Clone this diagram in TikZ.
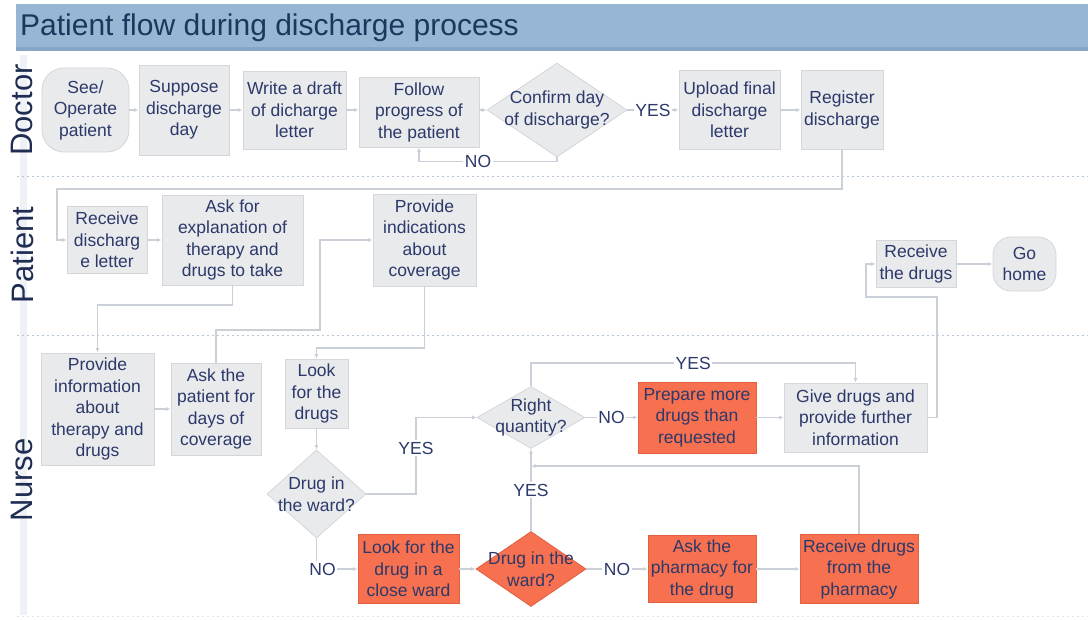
\documentclass[tikz,border=0pt]{standalone}
\usepackage{fontspec}
\setmainfont{Liberation Sans}
\usetikzlibrary{shapes.geometric,arrows.meta,calc}
\definecolor{barblue}{HTML}{97B6D4}
\definecolor{barline}{HTML}{86A6C6}
\definecolor{titletext}{HTML}{1C375C}
\definecolor{lanetext}{HTML}{1F2D52}
\definecolor{nodetext}{HTML}{2C396A}
\definecolor{boxfill}{HTML}{E9EAEC}
\definecolor{boxedge}{HTML}{D4D6DB}
\definecolor{hotfill}{HTML}{F7704F}
\definecolor{hotedge}{HTML}{E0603F}
\definecolor{wire}{HTML}{CBD0D8}
\definecolor{sepline}{HTML}{B5C6D8}
\definecolor{laneband}{HTML}{EEF2F6}

\begin{document}
\begin{tikzpicture}[x=1pt,y=-1pt,
  every node/.style={text=nodetext, font=\fontsize{17.5pt}{21.5pt}\selectfont, align=center},
  box/.style={rectangle, draw=boxedge, fill=boxfill, line width=0.8pt, inner sep=0pt},
  hotbox/.style={box, draw=hotedge, fill=hotfill},
  endbox/.style={box, rounded corners=#1},
  dec/.style={diamond, draw=boxedge, fill=boxfill, line width=0.8pt, inner sep=0pt},
  hotdec/.style={dec, draw=hotedge, fill=hotfill},
  dectext/.style={inner sep=0pt, text=nodetext, align=center},
  wireto/.style={draw=wire, line width=1.2pt, -{Latex[length=4.5pt,width=4pt]}},
  lbl/.style={fill=white, inner sep=1.5pt},
  lane/.style={rotate=90, text=lanetext, inner sep=0pt, font=\fontsize{31pt}{31pt}\selectfont},
  sep/.style={draw=sepline, line width=0.9pt, dash pattern=on 1.5pt off 3.5pt}
]
\useasboundingbox (0,0) rectangle (1088,620);
\fill[white] (0,0) rectangle (1088,620);

% lane band, title bar and lane separators
\fill[laneband] (20,55) rectangle (27,615);
\fill[barblue] (16,4) rectangle (1088,48);
\fill[barline] (16,47) rectangle (1088,51);
\draw[sep] (17,176) -- (1088,176);
\draw[sep] (17,335) -- (1088,335);
\draw[sep, draw=sepline!45] (17,616) -- (1088,616);

\node[anchor=base west, text=titletext, inner sep=0pt,
      font=\fontsize{30pt}{30pt}\selectfont] (title) at (20,36)
      {Patient flow during discharge process};

\node[lane] (ldoc) at (22,110) {Doctor};
\node[lane] (lpat) at (22,255) {Patient};
\node[lane] (lnur) at (22,480) {Nurse};

% Doctor lane
\node[endbox=22pt, minimum width=87pt, minimum height=84pt] (see) at (85.5,110) {See/\\Operate\\patient};
\node[box, minimum width=90pt, minimum height=90pt] (sup) at (184,110) {Suppose\\discharge\\day};
\node[box, minimum width=103pt, minimum height=78pt] (wri) at (294.5,110) {Write a draft\\of dicharge\\letter};
\node[box, minimum width=120pt, minimum height=70pt] (fol) at (419,112) {Follow\\progress of\\the patient};
\node[dec, minimum width=140pt, minimum height=94pt,
      label={[dectext]center:{Confirm day\\of discharge?}}] (conf) at (557,110) {};
\node[box, minimum width=101pt, minimum height=79pt] (upl) at (729.5,110) {Upload final\\discharge\\letter};
\node[box, minimum width=82pt, minimum height=79pt] (reg) at (842,110) {Register\\discharge};

% Patient lane
\node[box, minimum width=80pt, minimum height=67pt] (recv) at (107,240) {Receive\\discharg\\e letter};
\node[box, minimum width=141pt, minimum height=90pt] (ask) at (232.5,240) {Ask for\\explanation of\\therapy and\\drugs to take};
\node[box, minimum width=103pt, minimum height=92pt] (prov) at (424.5,240) {Provide\\indications\\about\\coverage};
\node[box, minimum width=80pt, minimum height=47pt] (rdrug) at (916,264) {Receive\\the drugs};
\node[endbox=18pt, minimum width=63pt, minimum height=54pt] (home) at (1024.5,264) {Go\\home};

% Nurse lane
\node[box, minimum width=113pt, minimum height=112pt] (pinfo) at (97.5,409) {Provide\\information\\about\\therapy and\\drugs};
\node[box, minimum width=90pt, minimum height=92pt] (askp) at (216,409) {Ask the\\patient for\\days of\\coverage};
\node[box, minimum width=63pt, minimum height=69pt] (look) at (316.5,393.5) {Look\\for the\\drugs};
\node[dec, minimum width=99pt, minimum height=88pt,
      label={[dectext]center:{Drug in\\the ward?}}] (dw1) at (316.5,494) {};
\node[dec, minimum width=108pt, minimum height=62pt,
      label={[dectext]center:{Right\\quantity?}}] (rq) at (531,417.5) {};
\node[hotbox, minimum width=118pt, minimum height=71pt] (prep) at (697,417.5) {Prepare more\\drugs than\\requested};
\node[box, minimum width=143pt, minimum height=69pt] (gd) at (855.5,417.5) {Give drugs and\\provide further\\information};
\node[hotbox, minimum width=101pt, minimum height=69pt] (close) at (408.5,569) {Look for the\\drug in a\\close ward};
\node[hotdec, minimum width=110pt, minimum height=75pt,
      label={[dectext]center:{Drug in the\\ward?}}] (dw2) at (531,569) {};
\node[hotbox, minimum width=108pt, minimum height=67pt] (askph) at (702,569) {Ask the\\pharmacy for\\the drug};
\node[hotbox, minimum width=118pt, minimum height=69pt] (rph) at (859,569) {Receive drugs\\from the\\pharmacy};

\coordinate (merge) at (dw2.north |- 0,466);

% Doctor lane flow
\draw[wireto] (see) -- (sup);
\draw[wireto] (sup) -- (wri);
\draw[wireto] (wri.east) -- (wri.east -| fol.west);
\draw[wireto] (fol.east |- conf.west) -- (conf.west);
\draw[wireto] (conf.east) -- node[lbl]{YES} (upl.west);
\draw[wireto] (conf.south) -- ++(0,4) -| node[lbl,pos=0.286]{NO} (fol.south);
\draw[wireto] (upl) -- (reg);

% hand-over to the patient
\draw[wireto] (reg.south) -- (reg.south |- 0,189) -| (57,240) -- (recv.west);
\draw[wireto] (recv) -- (ask);
\draw[wireto] (ask.south) -- (ask.south |- 0,305) -| (pinfo.north);
\draw[wireto] (pinfo) -- (askp);
\draw[wireto] (askp.north) |- (320,330) |- (prov.west);
\draw[wireto] (prov.south) -- (prov.south |- 0,348) -| (look.north);

% Nurse lane flow
\draw[wireto] (look) -- (dw1);
\draw[wireto] (dw1.east) -| node[lbl,pos=0.8]{YES} (rq.west -| 416,0) -- (rq.west);
\draw[wireto] (dw1.south) |- node[lbl,pos=0.5,xshift=6pt]{NO} (close.west);
\draw[wireto] (close) -- (dw2);
\draw[wireto] (dw2.east) -- node[lbl]{NO} (askph.west);
\draw[wireto] (askph) -- (rph);
\draw[wireto] (rph.north) |- (merge);
\draw[wireto] (dw2.north) -- node[lbl]{YES} (rq.south);
\draw[wireto] (rq.east) -- node[lbl]{NO} (prep.west);
\draw[wireto] (prep) -- (gd);
\draw[wireto] (rq.north) -- (rq.north |- 0,363) -| node[lbl,pos=0.25]{YES} (gd.north);
\draw[wireto] (gd.east) -| (937,297) -| (rdrug.west -| 866,0) -- (rdrug.west);
\draw[wireto] (rdrug) -- (home);
\end{tikzpicture}
\end{document}
